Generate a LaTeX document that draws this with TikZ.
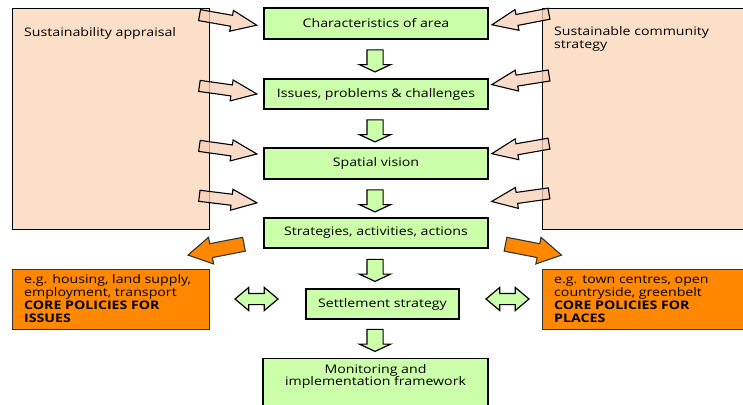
\documentclass[tikz,border=0pt]{standalone}
\usepackage{fontspec}
\setmainfont{Open Sans}[FakeStretch=1.2]
\usetikzlibrary{shapes.arrows}
\definecolor{peach}{RGB}{252,223,200}
\definecolor{peachar}{RGB}{249,208,182}
\definecolor{lgreen}{RGB}{204,255,170}
\definecolor{orng}{RGB}{255,136,0}
\newcommand{\fs}{\fontsize{11.8}{12.7}\selectfont}
\tikzset{
  gbox/.style={draw=black, line width=1.4pt, fill=lgreen, minimum width=224, minimum height=30, inner sep=0pt, font=\fs, align=center},
  pbox/.style={draw=black, line width=1.4pt, fill=peach, inner sep=0pt, anchor=north west},
  obox/.style={draw=black!80, line width=1.4pt, fill=orng, inner sep=0pt, anchor=north west},
  downar/.style={single arrow, draw=black, line width=1.2pt, fill=lgreen, rotate=-90, minimum height=22, minimum width=30, inner xsep=0pt, inner ysep=7.5pt, single arrow head extend=7.5pt, single arrow tip angle=130},
  dblar/.style={double arrow, draw=black, line width=1.2pt, fill=lgreen, minimum height=43, minimum width=22, inner xsep=0pt, inner ysep=5pt, double arrow head extend=6pt, double arrow tip angle=80},
  peachar/.style={single arrow, draw=black, line width=1.1pt, fill=peachar, fill opacity=0.75, minimum height=58, minimum width=20, inner xsep=0pt, inner ysep=5pt, single arrow head extend=5pt, single arrow tip angle=45},
  orar/.style={single arrow, draw=black!80, line width=1.1pt, fill=orng, minimum height=57, minimum width=26, inner xsep=0pt, inner ysep=6.5pt, single arrow head extend=6.5pt, single arrow tip angle=60},
  boxtxt/.style={font=\fs, inner sep=0pt, anchor=base west, align=left},
}
\begin{document}
\begin{tikzpicture}[x=1pt,y=-1pt]
\useasboundingbox (0,0) rectangle (743,404);
\fill[white] (0,0) rectangle (743,404);
% side boxes
\node[pbox, minimum width=197, minimum height=221] (sa) at (12,8) {};
\node[pbox, minimum width=210, minimum height=221] (scs) at (542,8) {};
\node[boxtxt] (satxt) at (24,37) {Sustainability appraisal};
\node[boxtxt] (scstxt) at (554,48.7) {Sustainable community\\strategy};
% orange boxes
\node[obox, minimum width=197, minimum height=60] (ci) at (12,269) {};
\node[obox, minimum width=210, minimum height=60] (cp) at (542,269) {};
\node[boxtxt] (citxt) at (24,322) {e.g. housing, land supply,\\employment, transport\\\textbf{CORE POLICIES FOR}\\\textbf{ISSUES}};
\node[boxtxt] (cptxt) at (554,322) {e.g. town centres, open\\countryside, greenbelt\\\textbf{CORE POLICIES FOR}\\\textbf{PLACES}};
% central boxes
\node[gbox, minimum height=31] (c1) at (376,23.5) {Characteristics of area};
\node[gbox] (c2) at (376,94) {Issues, problems \& challenges};
\node[gbox, minimum height=31] (c3) at (376,163.5) {Spatial vision};
\node[gbox] (c4) at (376,233) {Strategies, activities, actions};
\node[gbox, minimum width=153] (c5) at (382.5,304) {Settlement strategy};
\node[gbox, minimum width=225, minimum height=52, anchor=north] (c6) at (375.5,358) {};
\node[font=\fs, align=center, anchor=base, inner sep=0pt] (c6txt) at (375.5,385.7) {Monitoring and\\implementation framework};
% down arrows
\node[downar] (d1) at (375,59) {};
\node[downar] (d2) at (375,129) {};
\node[downar] (d3) at (375,199) {};
\node[downar] (d4) at (375,268.5) {};
\node[downar] (d5) at (375,338.5) {};
% double arrows
\node[dblar] (b1) at (256.5,299) {};
\node[dblar] (b2) at (507.5,299) {};
% peach arrows left
\node[peachar, rotate=-10] (l1) at (221.5,19) {};
\node[peachar, rotate=-8] (l2) at (221.5,89) {};
\node[peachar, rotate=-8] (l3) at (221.5,149) {};
\node[peachar, rotate=-7] (l4) at (221.5,198.5) {};
% peach arrows right
\node[peachar, rotate=191] (r1) at (527,18) {};
\node[peachar, rotate=189] (r2) at (527,79) {};
\node[peachar, rotate=190] (r3) at (527,147.5) {};
\node[peachar, rotate=188] (r4) at (527,196.5) {};
% orange arrows
\node[orar, rotate=191] (o1) at (222,248.5) {};
\node[orar, rotate=-11] (o2) at (527.5,248.5) {};
\end{tikzpicture}
\end{document}
